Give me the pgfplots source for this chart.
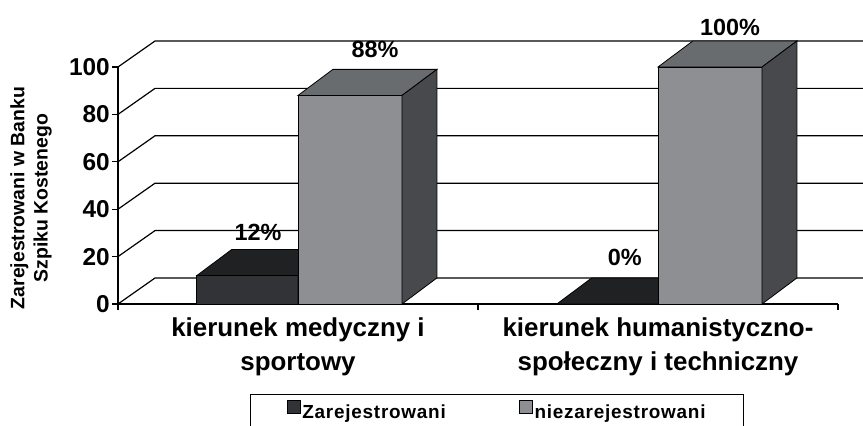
\documentclass[border=0pt]{standalone}
\usepackage{fontspec}
\setmainfont{Liberation Sans}
\usepackage{pgfplots}
\pgfplotsset{compat=1.18}
\definecolor{darkfront}{RGB}{50,51,55}
\definecolor{darktop}{RGB}{32,33,35}
\definecolor{darkside}{RGB}{40,41,44}
\definecolor{greyfront}{RGB}{142,143,147}
\definecolor{greytop}{RGB}{105,108,110}
\definecolor{greyside}{RGB}{72,73,77}
\begin{document}
\begin{tikzpicture}
\useasboundingbox (0,0) rectangle (863bp,426bp);
\clip (0,0) rectangle (863bp,426bp);
\begin{axis}[
  at={(118bp,122bp)}, anchor=south west,
  scale only axis, width=720bp, height=237bp,
  xmin=0, xmax=2, ymin=0, ymax=100,
  clip=false,
  axis lines*=left,
  axis line style={line width=1.2bp, black},
  xtick={0.5,1.5},
  xticklabels={{kierunek medyczny i\\sportowy},{kierunek humanistyczno-\\społeczny i techniczny}},
  xtick style={draw=none},
  xticklabel style={align=center, font=\bfseries\fontsize{26}{34}\selectfont, yshift=-4bp},
  ytick={0,20,40,60,80,100},
  yticklabels={},
  ytick style={line width=1.2bp, black},
  tick align=outside,
  major tick length=6bp,
  legend style={at={(rel axis cs:0.1833,-0.38)}, anchor=north west, draw=black, line width=1.2bp,
    font=\bfseries\fontsize{19}{21}\selectfont\addfontfeatures{LetterSpace=4},
    inner xsep=36bp, inner ysep=0bp,
    nodes={inner ysep=2bp, text depth=12bp, text height=22bp},
    /tikz/every even column/.append style={column sep=71bp}},
  legend columns=2,
  legend image code/.code={\draw[#1] (0bp,0bp) rectangle (13bp,13bp);},
]
% back wall gridlines and floor
\pgfplotsinvokeforeach{0,20,40,60,80,100}{
  \draw[line width=1.2bp, black] (axis cs:0,#1) -- ++(37bp,26bp) -- ++(760bp,0pt);
  \node[anchor=east, inner sep=0pt, font=\bfseries\fontsize{24.5}{27}\selectfont] at (axis cs:0,#1) [xshift=-8bp] {#1};
}
% x tick marks at category borders
\pgfplotsinvokeforeach{0,1,2}{
  \draw[line width=1.2bp, black] (axis cs:#1,0) -- ++(0pt,-6bp);
}
% --- kierunek medyczny i sportowy: Zarejestrowani 12
\addplot[forget plot, fill=darkfront, draw=black, line width=0.8bp] coordinates {(0.219,0) (0.5,0) (0.5,12) (0.219,12)} --cycle;
\addplot[forget plot, fill=darktop, draw=black, line width=0.8bp] coordinates {(0.219,12) (0.5,12) (0.597,23) (0.316,23)} --cycle;
\addplot[forget plot, fill=darkside, draw=black, line width=0.8bp] coordinates {(0.5,0) (0.597,11) (0.597,23) (0.5,12)} --cycle;
% niezarejestrowani 88
\addplot[forget plot, fill=greyfront, draw=black, line width=0.8bp] coordinates {(0.5,0) (0.789,0) (0.789,88) (0.5,88)} --cycle;
\addplot[forget plot, fill=greytop, draw=black, line width=0.8bp] coordinates {(0.5,88) (0.789,88) (0.886,99) (0.597,99)} --cycle;
\addplot[forget plot, fill=greyside, draw=black, line width=0.8bp] coordinates {(0.789,0) (0.886,11) (0.886,99) (0.789,88)} --cycle;
% --- kierunek humanistyczno-spoleczny i techniczny: Zarejestrowani 0
\addplot[forget plot, fill=darktop, draw=black, line width=0.8bp] coordinates {(1.219,0) (1.5,0) (1.597,11) (1.316,11)} --cycle;
% niezarejestrowani 100
\addplot[forget plot, fill=greyfront, draw=black, line width=0.8bp] coordinates {(1.5,0) (1.789,0) (1.789,100) (1.5,100)} --cycle;
\addplot[forget plot, fill=greytop, draw=black, line width=0.8bp] coordinates {(1.5,100) (1.789,100) (1.886,111) (1.597,111)} --cycle;
\addplot[forget plot, fill=greyside, draw=black, line width=0.8bp] coordinates {(1.789,0) (1.886,11) (1.886,111) (1.789,100)} --cycle;
% value labels
\node[font=\bfseries\fontsize{23.5}{27}\selectfont] at (axis cs:0.389,30.4) {12\%};
\node[font=\bfseries\fontsize{23.5}{27}\selectfont] at (axis cs:0.714,107.2) {88\%};
\node[font=\bfseries\fontsize{23.5}{27}\selectfont] at (axis cs:1.408,19.8) {0\%};
\node[font=\bfseries\fontsize{23.5}{27}\selectfont] at (axis cs:1.7,116.9) {100\%};
\addlegendimage{fill=darkfront, draw=black, line width=0.8bp}
\addlegendentry{Zarejestrowani}
\addlegendimage{fill=greyfront, draw=black, line width=0.8bp}
\addlegendentry{niezarejestrowani\hspace{12bp}}
\end{axis}
\node[rotate=90, align=center, font=\bfseries\fontsize{19.5}{23.5}\selectfont] at (31bp,228bp) {Zarejestrowani w Banku\\Szpiku Kostenego};
\end{tikzpicture}
\end{document}
